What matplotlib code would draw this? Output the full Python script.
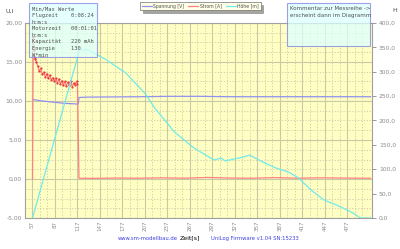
import matplotlib
matplotlib.use("Agg")
import matplotlib.pyplot as plt
from matplotlib.patches import Rectangle
from matplotlib.ticker import MultipleLocator, FuncFormatter

# ---- data ----
t_strom = [57, 58, 59, 60, 61, 62, 64, 66, 68, 70, 72, 74, 76, 78, 80, 82, 84, 86, 88, 90,
           92, 94, 96, 98, 100, 102, 104, 106, 108, 110, 112, 114, 116, 117, 119,
           140, 170, 200, 230, 260, 290, 320, 350, 380, 410, 440, 470, 500, 508]
strom = [0.0, 18.2, 16.5, 15.4, 15.6, 15.0, 14.5, 13.8, 14.2, 13.4, 13.7, 13.1, 13.5, 12.9,
         13.3, 12.7, 13.0, 12.5, 12.9, 12.3, 12.8, 12.2, 12.6, 12.0, 12.5, 11.9, 12.4, 12.0,
         12.6, 11.8, 12.3, 12.1, 12.5, 12.2, 0.1,
         0.08, 0.12, 0.1, 0.15, 0.1, 0.2, 0.12, 0.1, 0.18, 0.1, 0.15, 0.12, 0.1, 0.1]

t_spannung = [57, 60, 70, 80, 90, 100, 110, 118, 119, 130, 200, 240, 280, 320, 400, 508]
spannung = [10.2, 10.15, 10.0, 9.9, 9.8, 9.7, 9.65, 9.6, 10.45, 10.5, 10.55, 10.6, 10.6,
            10.55, 10.55, 10.55]

t_hoehe = [57, 100, 120, 131, 155, 181, 207, 220, 246, 272, 299, 309, 314, 338, 347, 364,
           381, 399, 412, 429, 446, 468, 485, 494, 508]
hoehe = [0, 236, 345, 345, 325, 298, 256, 226, 177, 144, 119, 123, 117, 125, 129, 115,
         103, 94, 82, 57, 37, 23, 10, 0, 0]

x_ticks = list(range(57, 478, 30))
left_ticks = [-5, 0, 5, 10, 15, 20]
right_ticks = [0, 50, 100, 150, 200, 250, 300, 350, 400]

info_lines = ["Min/Max Werte", "Flugzeit    0:08:24", "h:m:s", "Motorzeit   00:01:01",
              "h:m:s", "Kapazität   220 mAh", "Energie     130", "W*min"]
comment_lines = ["Kommentar zur Messreihe ->", "erscheint dann im Diagramm"]

# ---- figure ----
W, H = 400, 249
fig = plt.figure(figsize=(W / 100, H / 100), dpi=100)
fig.patch.set_facecolor("white")
ax = fig.add_axes([25 / W, 1 - 218 / H, (372 - 25) / W, (218 - 23) / H])
ax.set_facecolor("#FFFFC4")

ax.set_xlim(57, 510)
ax.set_ylim(-5, 20)
ax.set_xticks(x_ticks)
ax.set_xticks([x for x in range(47, 510, 10) if (x - 57) % 30 != 0], minor=True)
ax.set_yticks(left_ticks)
ax.yaxis.set_minor_locator(MultipleLocator(1.25))
ax.grid(which="major", color="#C9C9A6", lw=0.8, ls="-")
ax.grid(which="minor", color="#C9C9A6", lw=0.6, ls=(0, (1.5, 2)))
ax.set_axisbelow(True)

tick_col = "#8A8A8A"
ax.set_xticklabels([str(x) for x in x_ticks], rotation=90, fontsize=4, color=tick_col)
ax.yaxis.set_major_formatter(FuncFormatter(lambda v, p: ("%.2f" % v).replace(".", ",")))
ax.tick_params(axis="y", labelsize=4.3, labelcolor=tick_col)
ax.tick_params(axis="both", which="both", length=0, pad=2)
for s in ax.spines.values():
    s.set_color("#A0A0A0")
    s.set_linewidth(0.8)

l1, = ax.plot(t_spannung, spannung, color="#9090F0", lw=0.9, label="Spannung [V]")
l2, = ax.plot(t_strom, strom, color="#FF8080", lw=0.9, label="Strom [A]")
ax.plot(t_strom[1:34], strom[1:34], ls="none", marker=".", ms=1.0, color="#E02020")

ax2 = ax.twinx()
ax2.set_ylim(0, 400)
ax2.set_yticks(right_ticks)
ax2.yaxis.set_major_formatter(FuncFormatter(lambda v, p: ("%.1f" % v).replace(".", ",")))
ax2.tick_params(axis="y", length=3, width=0.6, color="#8A8A8A", labelsize=4.3,
                labelcolor=tick_col, pad=2)
for s in ax2.spines.values():
    s.set_visible(False)
l3, = ax2.plot(t_hoehe, hoehe, color="#70EAEA", lw=0.9, label="Höhe [m]")

# legend
leg = fig.legend(handles=[l1, l2, l3], loc="upper left", bbox_to_anchor=(140 / W, 1 - 2 / H),
                 ncol=3, fontsize=3.3, frameon=True, fancybox=False, shadow=True,
                 handlelength=2.2, columnspacing=0.9, handletextpad=0.3,
                 borderpad=0.35, borderaxespad=0, labelcolor="#505050")
leg.get_frame().set_facecolor("#FFFFE8")
leg.get_frame().set_edgecolor("#707070")
leg.get_frame().set_linewidth(0.5)

# info box
fig.patches.append(Rectangle((29 / W, 1 - 57 / H), 68 / W, 54 / H, transform=fig.transFigure,
                             facecolor="#DDFFFF", alpha=0.75, edgecolor="#8080E0", lw=0.8,
                             zorder=5))
for i, line in enumerate(info_lines):
    fig.text(32 / W, 1 - (9 + i * 6.6) / H, line, fontsize=3.9, family="DejaVu Sans Mono",
             color="#505050", va="center", zorder=6)

# comment box
fig.patches.append(Rectangle((287 / W, 1 - 46 / H), 83 / W, 43 / H, transform=fig.transFigure,
                             facecolor="#DDFFFF", alpha=0.75, edgecolor="#8080E0", lw=0.8,
                             zorder=5))
for i, line in enumerate(comment_lines):
    fig.text(290 / W, 1 - (8 + i * 7) / H, line, fontsize=4, color="#505050", va="center",
             zorder=6)

fig.text(5 / W, 1 - 11 / H, "U,I", fontsize=4.5, color="#505050", va="center")
fig.text(392 / W, 1 - 11 / H, "H", fontsize=4.5, color="#505050", va="center")
fig.text(118 / W, 1 - 238 / H, "www.sm-modellbau.de", fontsize=3.8, color="#4040E0", va="center")
fig.text(180 / W, 1 - 238 / H, "Zeit[s]", fontsize=4.5, color="black", va="center")
fig.text(211 / W, 1 - 238 / H, "UniLog Firmware v1.04 SN:15233", fontsize=3.8, color="#4040E0",
         va="center")

fig.savefig("out.png", dpi=100)
